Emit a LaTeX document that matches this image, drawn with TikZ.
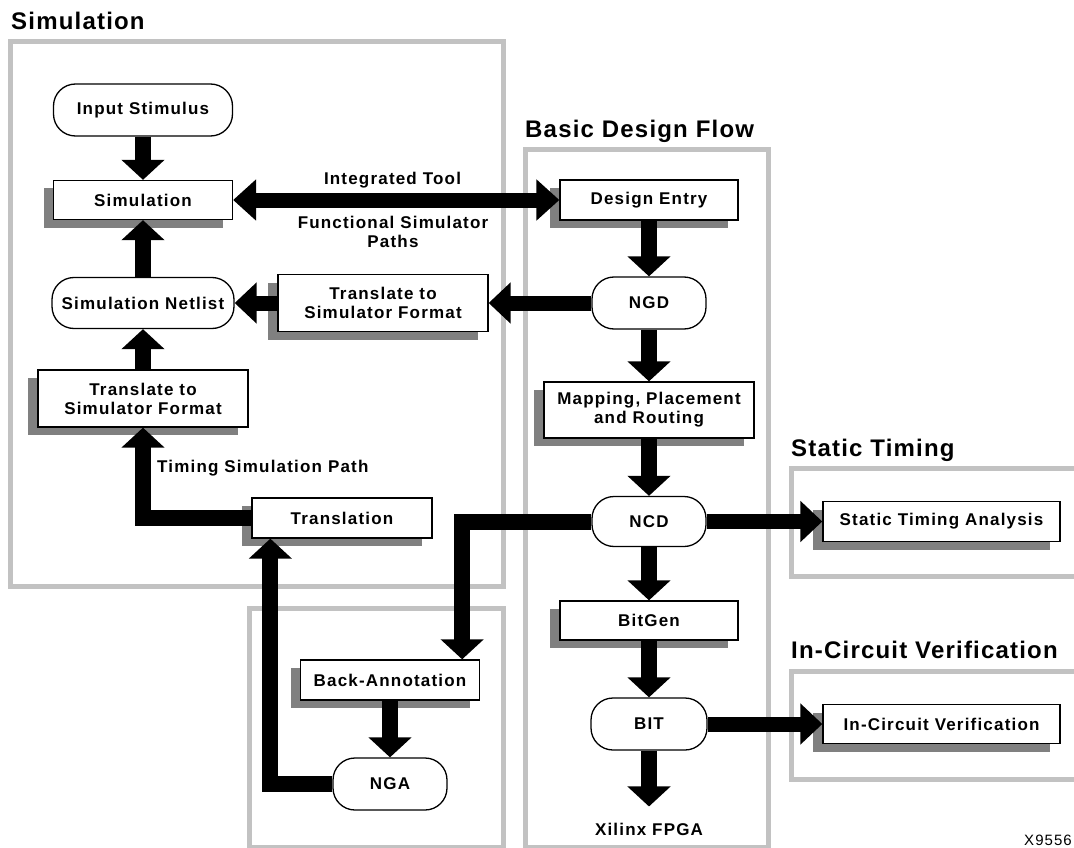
\documentclass[tikz,border=0pt]{standalone}
\usepackage{fontspec}
\setmainfont{Liberation Sans}
\newfontfamily\boxfont{Liberation Sans}[LetterSpace=7]
\newfontfamily\titlefont{Liberation Sans}[LetterSpace=5]
\usetikzlibrary{arrows.meta,shadows,positioning}
\definecolor{framegray}{gray}{0.76}
\definecolor{shadegray}{gray}{0.5}
\def\simframe{(10.5,41.5) rectangle (503,586.5)}
\def\backframe{(249.5,608.5) rectangle (503,847)}
\def\flowframe{(525,149.5) rectangle (768.5,847)}
\def\staticframe{(791.5,468.5) rectangle (1080,576.5)}
\def\icvframe{(791.5,671.5) rectangle (1080,779)}
\tikzset{
  groupframe/.style={draw=framegray, line width=5pt},
  grouptitle/.style={anchor=base west, inner sep=0pt, font=\titlefont\bfseries\fontsize{24}{28}\selectfont},
  pathtext/.style={inner sep=0pt, align=center, font=\boxfont\bfseries\fontsize{17}{19}\selectfont},
  stepbox/.style={draw, fill=white, line width=1.3pt, inner sep=0pt, align=center,
    font=\boxfont\bfseries\fontsize{17}{19}\selectfont,
    drop shadow={shadow xshift=-10pt, shadow yshift=-8pt, fill=shadegray, opacity=1}},
  termnode/.style={draw, fill=white, line width=1.3pt, rounded corners=22pt, inner sep=0pt,
    minimum height=52pt, font=\boxfont\bfseries\fontsize{17}{19}\selectfont},
  vflow/.style={line width=16pt, -{Triangle[length=20pt,width=42pt]}},
  hflow/.style={line width=15pt, -{Triangle[length=22pt,width=40pt]}},
  elbow/.style={vflow, line join=miter},
}
\begin{document}
\begin{tikzpicture}[x=1pt,y=-1pt]
\useasboundingbox (0,0) rectangle (1074,848);
% group frames and their titles
\draw[groupframe] \simframe;
\draw[groupframe] \backframe;
\draw[groupframe] \flowframe;
\draw[groupframe] \staticframe;
\draw[groupframe] \icvframe;
\node[grouptitle] at (11,30) {Simulation};
\node[grouptitle] at (525,138) {Basic Design Flow};
\node[grouptitle] at (791,456) {Static Timing};
\node[grouptitle] at (791,658) {In-Circuit Verification};
% simulation side
\node[termnode, minimum width=179pt] (insti) at (143,110) {Input Stimulus};
\node[stepbox, minimum width=179pt, minimum height=39pt] (sim) at (143,200) {Simulation};
\node[termnode, minimum width=182pt, minimum height=51pt] (net) at (143,303) {Simulation Netlist};
\node[stepbox, minimum width=210pt, minimum height=57pt] (tsr) at (383,303) {Translate to\\Simulator Format};
\node[stepbox, minimum width=210pt, minimum height=57pt] (tsl) at (143,398.5) {Translate to\\Simulator Format};
\node[stepbox, minimum width=180pt, minimum height=40pt] (trans) at (342,518) {Translation};
\node[stepbox, minimum width=179pt, minimum height=40pt] (ba) at (390,680) {Back-Annotation};
\node[termnode, minimum width=114pt] (nga) at (390,784) {NGA};
% basic design flow
\node[stepbox, minimum width=178pt, minimum height=40pt] (de) at (649,200) {Design Entry};
\node[termnode, minimum width=114pt] (ngd) at (649,303) {NGD};
\node[stepbox, minimum width=210pt, minimum height=56pt] (mpr) at (649,410) {Mapping, Placement\\and Routing};
\node[termnode, minimum width=114pt, minimum height=50pt] (ncd) at (649,521.5) {NCD};
\node[stepbox, minimum width=178pt, minimum height=39pt] (bitgen) at (649,620.5) {BitGen};
\node[termnode, minimum width=116pt] (bit) at (649,724) {BIT};
\node[pathtext, anchor=base] (fpga) at (649,835) {Xilinx FPGA};
% checks
\node[stepbox, minimum width=237pt, minimum height=40pt] (sta) at (941.5,521.5) {Static Timing Analysis};
\node[stepbox, minimum width=237pt, minimum height=39pt] (icv) at (941.5,724) {In-Circuit Verification};
% path texts
\node[pathtext] (intlbl) at (392.5,180) {Integrated Tool};
\node[pathtext] (funlbl) at (393,231.5) {Functional Simulator\\Paths};
\node[pathtext, anchor=west] (timlbl) at (157,468) {Timing Simulation Path};
\node[anchor=base east, inner sep=0pt, font=\boxfont\fontsize{15}{17}\selectfont] (fig) at (1072,845) {X9556};
% connectors
\draw[vflow] (insti) -- (sim);
\draw[vflow] (net) -- (sim);
\draw[vflow] (tsl) -- (net);
\draw[elbow] (trans.west) -| (tsl.south);
\draw[elbow] (nga.west) -| ([xshift=19pt]trans.south west);
\draw[vflow] (ba) -- (nga);
\draw[hflow, {Triangle[length=23pt,width=40pt]}-{Triangle[length=23pt,width=40pt]}] (sim) -- (de);
\draw[hflow] (ngd) -- (tsr);
\draw[hflow] (tsr) -- (net);
\draw[vflow] (de) -- (ngd);
\draw[vflow] (ngd) -- (mpr);
\draw[vflow] (mpr) -- (ncd);
\draw[vflow] (ncd) -- (bitgen);
\draw[vflow] (bitgen) -- (bit);
\draw[vflow, shorten >=16pt] (bit) -- (fpga);
\draw[elbow] (ncd.west) -| ([xshift=-18pt]ba.north east);
\draw[hflow] (ncd) -- (sta);
\draw[hflow] (bit) -- (icv);
\end{tikzpicture}
\end{document}
